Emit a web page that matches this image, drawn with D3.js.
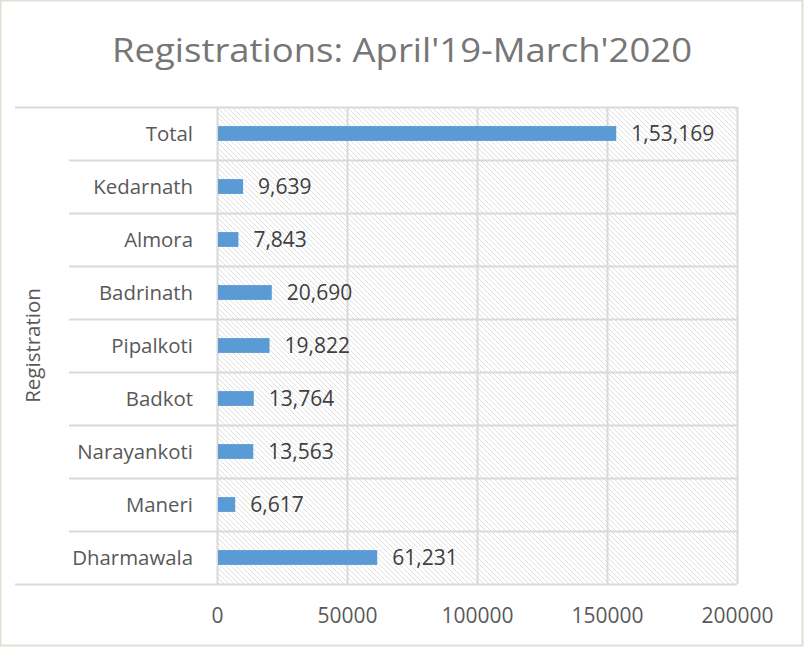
<!DOCTYPE html>
<html>
<head>
<meta charset="utf-8">
<script src="https://cdn.jsdelivr.net/npm/d3@7"></script>
<style>
  body { margin: 0; background: #fff; }
  text { font-family: "Open Sans", "Noto Sans", sans-serif; }
</style>
</head>
<body>
<div id="chart_parent"></div>
<script>
// chart data, bottom to top as in the picture
const categories = ['Dharmawala', 'Maneri', 'Narayankoti', 'Badkot', 'Pipalkoti',
    'Badrinath', 'Almora', 'Kedarnath', 'Total'];
const registrations = [61231, 6617, 13563, 13764, 19822, 20690, 7843, 9639, 153169];
const xTicks = [0, 50000, 100000, 150000, 200000];
const groupLabel = 'Registration';
const title = "Registrations: April'19-March'2020";

const config = {
    width: 804,
    height: 647,
    plot: { left: 217, right: 737, top: 107, bottom: 584 },
};

// indian digit grouping: 1,53,169
function formatIndian(n) {
    const s = String(n);
    if (s.length <= 3) return s;
    const last3 = s.slice(-3);
    const rest = s.slice(0, -3).replace(/\B(?=(\d{2})+(?!\d))/g, ',');
    return rest + ',' + last3;
}

const svg = d3.select('#chart_parent').append('svg')
    .attr('width', config.width)
    .attr('height', config.height);

const defs = svg.append('defs');
const pat = defs.append('pattern')
    .attr('id', 'hatch')
    .attr('patternUnits', 'userSpaceOnUse')
    .attr('width', 5)
    .attr('height', 5);
pat.append('path')
    .attr('d', 'M-1,-1 L6,6 M-1,4 L1,6 M4,-1 L6,1')
    .attr('stroke', '#e0e0e0')
    .attr('stroke-width', 1);

// chart border
svg.append('rect')
    .attr('x', 0.5).attr('y', 0.5)
    .attr('width', config.width - 2).attr('height', config.height - 2)
    .attr('fill', '#fff')
    .attr('stroke', '#d9e3d4')
    .attr('stroke-width', 2);

svg.append('text')
    .attr('x', 402)
    .attr('y', 62)
    .attr('text-anchor', 'middle')
    .attr('font-size', 33)
    .attr('fill', '#767676')
    .attr('textLength', 580)
    .attr('lengthAdjust', 'spacingAndGlyphs')
    .text(title);

const p = config.plot;

const x = d3.scaleLinear()
    .domain([0, 200000])
    .range([p.left, p.right]);

const y = d3.scaleBand()
    .domain(categories.slice().reverse())
    .range([p.top, p.bottom])
    .paddingInner(0.72)
    .paddingOuter(0.36);

const rowH = (p.bottom - p.top) / categories.length;

// plot area fill
svg.append('rect')
    .attr('x', p.left).attr('y', p.top)
    .attr('width', p.right - p.left).attr('height', p.bottom - p.top)
    .attr('fill', 'url(#hatch)');

// vertical gridlines
svg.append('g').selectAll('line').data(xTicks).join('line')
    .attr('x1', d => Math.round(x(d)) + 0.5)
    .attr('x2', d => Math.round(x(d)) + 0.5)
    .attr('y1', p.top)
    .attr('y2', p.bottom)
    .attr('stroke', '#d9d9d9')
    .attr('stroke-width', 2);

// horizontal row lines, inner ones span the first label level only
const rowEdges = d3.range(categories.length + 1);
svg.append('g').selectAll('line').data(rowEdges).join('line')
    .attr('x1', d => (d === 0 || d === categories.length) ? 15 : 69)
    .attr('x2', p.right)
    .attr('y1', d => Math.round(p.top + d * rowH) + 0.5)
    .attr('y2', d => Math.round(p.top + d * rowH) + 0.5)
    .attr('stroke', '#d9d9d9')
    .attr('stroke-width', 2);

// bars
svg.append('g').selectAll('rect').data(categories).join('rect')
    .attr('x', x(0) + 1)
    .attr('y', d => y(d))
    .attr('width', (d, i) => x(registrations[i]) - x(0))
    .attr('height', y.bandwidth())
    .attr('fill', '#5b9bd5');

// data labels
svg.append('g').selectAll('text').data(categories).join('text')
    .attr('x', (d, i) => x(registrations[i]) + 16)
    .attr('y', d => y(d) + y.bandwidth() / 2)
    .attr('dy', '0.36em')
    .attr('font-size', 21)
    .attr('fill', '#404040')
    .text((d, i) => formatIndian(registrations[i]));

// category labels
svg.append('g').selectAll('text').data(categories).join('text')
    .attr('x', 193)
    .attr('y', d => y(d) + y.bandwidth() / 2)
    .attr('dy', '0.36em')
    .attr('text-anchor', 'end')
    .attr('font-size', 20.4)
    .attr('fill', '#595959')
    .text(d => d);

// group label
svg.append('text')
    .attr('transform', `translate(40,${(p.top + p.bottom) / 2}) rotate(-90)`)
    .attr('text-anchor', 'middle')
    .attr('font-size', 20.5)
    .attr('fill', '#595959')
    .text(groupLabel);

// x axis labels
const xAxis = d3.axisBottom(x)
    .tickValues(xTicks)
    .tickSize(0)
    .tickPadding(24)
    .tickFormat(d3.format('d'));

const xAxisGroup = svg.append('g')
    .attr('transform', `translate(0,${p.bottom})`)
    .call(xAxis);
xAxisGroup.select('.domain').remove();
xAxisGroup.selectAll('text')
    .attr('font-size', 21)
    .attr('font-family', '"Open Sans", "Noto Sans", sans-serif')
    .attr('fill', '#595959');
</script>
</body>
</html>
